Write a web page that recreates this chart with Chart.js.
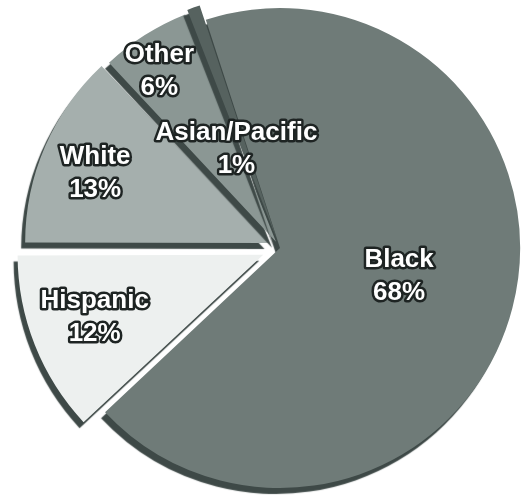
<!DOCTYPE html>
<html>
<head>
<meta charset="utf-8">
<title>Groups</title>
<script src="https://cdn.jsdelivr.net/npm/chart.js@4.4.1/dist/chart.umd.min.js"></script>
<style>
    html, body { margin: 0; padding: 0; background: #fff; }
    #wrap { width: 521px; height: 497px; position: relative; }
</style>
</head>
<body>
<div id="wrap"><canvas id="group-chart"></canvas></div>
<script>
// shares by group, clockwise from the top
const groups = ['Black', 'Hispanic', 'White', 'Other', 'Asian/Pacific'];
const shares = [68, 12, 13, 6, 1];
const sliceColors = ['#6f7b78', '#edf0ef', '#a5afad', '#8b9794', '#56625f'];
const pullOut = [0, 72, 50, 30, 32];

// where each label sits: fraction of radius along the slice middle, plus a small turn in degrees
const labelRadius = [0.51, 0.825, 0.83, 0.89, 0.45];
const labelTurn = [-1, 1, -1.5, -2, -4];

const pieLook = {
    id: 'pieLook',
    beforeDatasetsDraw(chart) {
        const ctx = chart.ctx;
        ctx.save();
        // dark rim under the slices
        ctx.shadowColor = '#3e4947';
        ctx.shadowOffsetX = -4;
        ctx.shadowOffsetY = 6;
        ctx.shadowBlur = 1;
    },
    afterDatasetsDraw(chart) {
        const ctx = chart.ctx;
        ctx.restore();

        const meta = chart.getDatasetMeta(0);
        ctx.save();
        ctx.font = 'bold 26px "Liberation Sans", Arial, sans-serif';
        ctx.textAlign = 'center';
        ctx.textBaseline = 'middle';
        ctx.lineJoin = 'round';
        ctx.lineWidth = 5;
        ctx.strokeStyle = '#1e2423';
        ctx.fillStyle = '#ffffff';

        meta.data.forEach((arc, i) => {
            const p = arc.getProps(['x', 'y', 'startAngle', 'endAngle', 'outerRadius'], true);
            const mid = (p.startAngle + p.endAngle) / 2 + labelTurn[i] * Math.PI / 180;
            const r = p.outerRadius * labelRadius[i];
            const x = p.x + Math.cos(mid) * r;
            const y = p.y + Math.sin(mid) * r;
            const lines = [groups[i], shares[i] + '%'];
            lines.forEach((txt, k) => {
                const ty = y + (k === 0 ? -16.5 : 16.5);
                ctx.strokeText(txt, x, ty);
                ctx.fillText(txt, x, ty);
            });
        });
        ctx.restore();
    }
};

const ctx = document.getElementById('group-chart').getContext('2d');
new Chart(ctx, {
    type: 'pie',
    data: {
        labels: groups,
        datasets: [{
            data: shares,
            backgroundColor: sliceColors,
            borderWidth: 0,
            offset: pullOut
        }]
    },
    options: {
        responsive: true,
        maintainAspectRatio: false,
        animation: false,
        events: [],
        rotation: -18,
        radius: 240,
        layout: {
            padding: { left: 39, right: 0, top: 0, bottom: 1 }
        },
        plugins: {
            legend: { display: false },
            tooltip: { enabled: false },
            title: { display: false }
        }
    },
    plugins: [pieLook]
});
</script>
</body>
</html>
